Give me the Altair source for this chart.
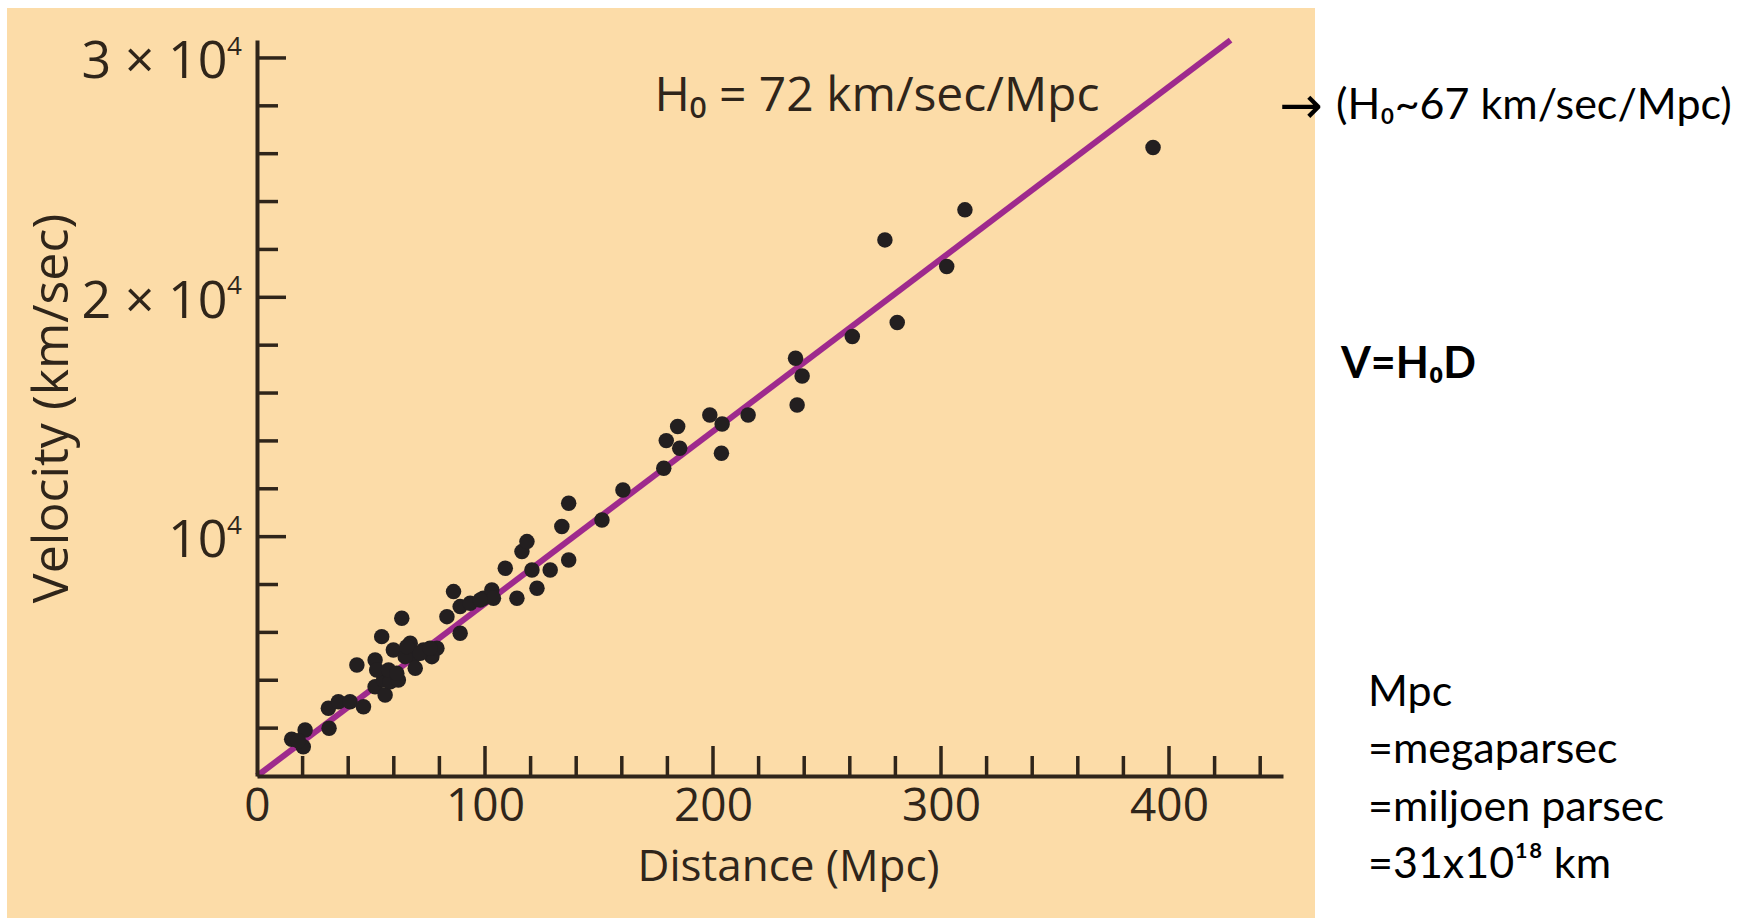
import altair as alt
import pandas as pd

# Galaxy distances (Mpc) and recession velocities (km/s)
distance = [15.2, 21.1, 20.3, 18.1, 31.6, 31.3, 35.7, 40.8, 46.7, 43.8,
            51.8, 51.8, 55.5, 56.2, 58.4, 54.7, 59.8, 63.5, 62.0, 67.2,
            68.6, 69.4, 73.0, 76.7, 78.9, 83.3, 86.2, 89.1, 89.1, 93.5,
            99.3, 103.0, 103.7, 108.9, 114.0, 116.2, 118.4, 120.6, 122.8, 128.6,
            133.7, 136.7, 136.7, 151.3, 52.5, 57.7, 61.3, 65.0, 65.7, 71.6,
            75.9, 97.9, 160.5, 178.4, 179.5, 184.5, 185.4, 198.6, 204.0, 203.7,
            215.4, 236.2, 239.1, 236.9, 261.1, 280.8, 275.4, 302.5, 310.5, 393.0]
velocity = [1534, 1922, 1226, 1476, 1992, 2828, 3106, 3106, 2897, 4639,
            4848, 3733, 4012, 3385, 3942, 5823, 5266, 6589, 4012, 5544,
            4987, 4500, 5266, 4987, 5335, 6658, 7704, 7077, 5962, 7216,
            7425, 7773, 7425, 8678, 7425, 9375, 9793, 8609, 7843, 8609,
            10420, 9027, 11395, 10698, 4430, 4430, 4290, 4987, 5405, 5127,
            5335, 7355, 11952, 12858, 14012, 14598, 13694, 15086, 14710, 13485,
            15086, 17455, 16716, 15504, 18358, 18944, 22399, 21284, 23653, 26257]

# Hubble law V = H0 * D
H0 = 72
fit_distance = [0, 427]

x_labels = [0, 100, 200, 300, 400]
x_major_ticks = [100, 200, 300, 400]
x_minor_ticks = [20, 40, 60, 80, 120, 140, 160, 180, 220, 240, 260, 280,
                 320, 340, 360, 380, 420, 440]
y_major_ticks = [10000, 20000, 30000]
y_minor_ticks = [2000, 4000, 6000, 8000, 12000, 14000, 16000, 18000,
                 22000, 24000, 26000, 28000]
y_exponent = "4"

fit_label = "H\u2080 = 72 km/sec/Mpc"
fit_label_pos = (174.3, 27790)
side_arrow = "\u2192"
side_note = "(H\u2080~67 km/sec/Mpc)"
law_text = "V=H\u2080D"
mpc_lines = ["Mpc", "=megaparsec", "=miljoen parsec", "=31x10\u00b9\u2078 km"]

W, H = 1026, 736
PANEL = "#FCDCA8"
INK = "#2f251a"
LINE = "#9E2A8D"
PLOT_FONT = "Open Sans"
NOTE_FONT = "Lato"
Y_LABEL_GAP = 30

xs = alt.Scale(domain=[0, 450], nice=False, zero=True)
ys = alt.Scale(domain=[0, 30750], nice=False, zero=True)

# one shared axis definition per channel, so the layers merge into a single axis
x_axis = alt.Axis(
    values=x_labels, ticks=False, tickSize=0, grid=False,
    domainColor=INK, domainWidth=4, labelFont=PLOT_FONT, labelFontSize=46,
    labelColor=INK, labelPadding=8, title="Distance (Mpc)",
    titleFont=PLOT_FONT, titleFontSize=44, titleFontWeight="normal",
    titleColor=INK, titlePadding=16, titleX=531, zindex=1, labelFlush=False,
)
# mantissa part of the y labels; the power-of-ten exponent is set as a superscript layer
y_axis = alt.Axis(
    values=y_major_ticks, ticks=False, tickSize=0, grid=False,
    domainColor=INK, domainWidth=4, labelFont=PLOT_FONT, labelFontSize=52,
    labelColor=INK, labelPadding=Y_LABEL_GAP, labelOffset=4,
    labelExpr="datum.value == 10000 ? '10' : datum.value == 20000 ? '2 \u00d7 10' : '3 \u00d7 10'",
    title="Velocity (km/sec)", titleFont=PLOT_FONT, titleFontSize=50,
    titleFontWeight="normal", titleColor=INK, titlePadding=4, zindex=1,
    labelFlush=False,
)

X = alt.X("D:Q", scale=xs, axis=x_axis)
Y = alt.Y("V:Q", scale=ys, axis=y_axis)

pts = pd.DataFrame({"D": distance, "V": velocity})
fit = pd.DataFrame({"D": fit_distance, "V": [H0 * d for d in fit_distance]})
one = pd.DataFrame({"k": [0]})

panel = alt.Chart(one).mark_rect(color=PANEL).encode(
    x=alt.value(-250), x2=alt.value(1058), y=alt.value(-32), y2=alt.value(878)
)

line = alt.Chart(fit).mark_line(color=LINE, strokeWidth=6).encode(x=X, y=Y)

dots = alt.Chart(pts).mark_circle(size=240, color="#231f20", opacity=1).encode(x=X, y=Y)


def x_ticks(vals, length):
    return alt.Chart(pd.DataFrame({"D": vals})).mark_rule(color=INK, strokeWidth=3.5).encode(
        x=X, y=alt.value(H), y2=alt.value(H - length)
    )


def y_ticks(vals, length):
    return alt.Chart(pd.DataFrame({"V": vals})).mark_rule(color=INK, strokeWidth=3.5).encode(
        y=Y, x=alt.value(0), x2=alt.value(length)
    )


exponents = alt.Chart(pd.DataFrame({"V": y_major_ticks})).mark_text(
    text=y_exponent, font=PLOT_FONT, fontSize=26, color=INK, align="left",
    baseline="middle", dx=0, dy=-11,
).encode(y=Y, x=alt.value(-Y_LABEL_GAP))

ann = alt.Chart(pd.DataFrame({"D": [fit_label_pos[0]], "V": [fit_label_pos[1]]})).mark_text(
    text=fit_label, font=PLOT_FONT, fontSize=48, color=INK, align="left", baseline="alphabetic"
).encode(x=X, y=Y)


def note(text, x, y, size=43, weight="normal", font=NOTE_FONT, align="left"):
    return alt.Chart(one).mark_text(
        text=text, font=font, fontSize=size, fontWeight=weight, color="#000000",
        align=align, baseline="alphabetic"
    ).encode(x=alt.value(x), y=alt.value(y))


notes = [
    note(side_arrow, 1044, 83, size=52, font="DejaVu Sans", align="center"),
    note(side_note, 1079, 79),
    note(law_text, 1084, 338, weight="bold"),
]
for i, t in enumerate(mpc_lines):
    notes.append(note(t, 1111, 666 + 57.3 * i))

chart = alt.layer(
    panel, line, dots,
    x_ticks(x_minor_ticks, 20), x_ticks(x_major_ticks, 30),
    y_ticks(y_minor_ticks, 21), y_ticks(y_major_ticks, 29),
    exponents, ann, *notes,
).properties(
    width=W, height=H,
    autosize=alt.AutoSizeParams(type="none"),
    padding={"left": 257, "top": 40, "right": 471, "bottom": 147},
    background="white",
).configure_view(stroke=None, fill=None)

chart.save("out.html", embed_options={"renderer": "svg", "actions": False})
